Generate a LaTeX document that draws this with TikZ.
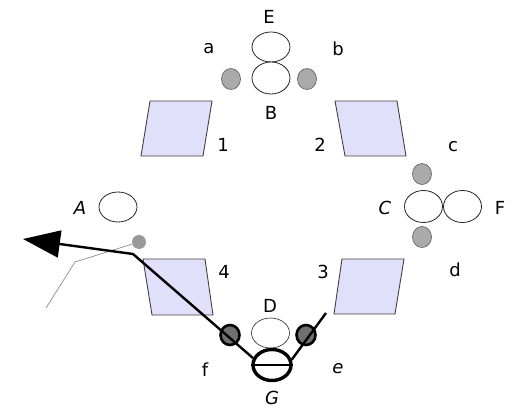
\documentclass[tikz,border=0pt]{standalone}
\usepackage{fontspec}
\setmainfont{DejaVu Sans}
\usetikzlibrary{shapes.geometric,arrows.meta}
\definecolor{lav}{RGB}{224,224,250}
\definecolor{pgray}{RGB}{170,170,170}
\definecolor{dgray}{RGB}{112,112,112}
\begin{document}
\begin{tikzpicture}[x=1pt,y=-1pt,
  lbl/.style={font=\fontsize{18}{18}\selectfont, inner sep=0},
  ilbl/.style={lbl, font=\fontsize{18}{18}\selectfont\itshape},
  wh/.style={ellipse, draw=black!85, fill=white, line width=0.8pt, inner sep=0, minimum width=38pt, minimum height=31pt},
  gr/.style={ellipse, draw=black!60, fill=pgray, line width=0.7pt, inner sep=0, minimum width=19pt, minimum height=21pt},
  dk/.style={ellipse, draw=black, fill=dgray, line width=2.6pt, inner sep=0, minimum width=19pt, minimum height=20pt},
  pg/.style={draw=black!75, fill=lav, line width=0.9pt},
  thick line/.style={line width=2.4pt, black}]
\useasboundingbox (0,0) rectangle (517,409);
% parallelograms
\draw[pg] (150,101) -- (212,101) -- (203,156) -- (141,156) -- cycle;
\draw[pg] (335,101) -- (397,101) -- (406,156) -- (345,156) -- cycle;
\draw[pg] (342,259) -- (404,259) -- (395,314) -- (334,314) -- cycle;
\draw[pg] (143,259) -- (205,259) -- (213,315) -- (152,315) -- cycle;
% top group
\node[wh, minimum width=38pt, minimum height=30pt] (E) at (271,47) {};
\node[wh, minimum width=38pt, minimum height=32pt] (B) at (271,78) {};
\node[gr] (ga) at (231,79) {};
\node[gr] (gb) at (307,79) {};
% left
\node[wh, minimum height=30pt] (A) at (118,207) {};
\node[circle, fill=black!40, inner sep=0, minimum size=14pt] (dot) at (139,242) {};
% right group
\node[wh, minimum height=32pt] (C) at (423.5,206.5) {};
\node[wh, minimum height=32pt] (F) at (462.5,206.5) {};
\node[gr] (gc) at (422,174) {};
\node[gr] (gd) at (422,237) {};
% bottom group
\node[wh, line width=0.6pt, minimum height=30pt] (D) at (270.5,333) {};
\node[dk] (f) at (230,335) {};
\node[dk] (e) at (306,335) {};
\node[ellipse, draw=black, fill=white, line width=3.4pt, inner sep=0, minimum width=38pt, minimum height=31pt] (G) at (272,365) {};
% connectors
\coordinate (tip) at (23,239);
\coordinate (corner) at (133,254);
\coordinate (eend) at (326,313);
\coordinate (gk) at (75,262);
\coordinate (gend) at (46,308);
\draw[black!45, line width=0.7pt] (dot) -- (gk) -- (gend);
\draw[thick line, -{Triangle[length=37pt,width=27pt]}] (G.160) -- (corner) -- (tip);
\draw[thick line] (G.15) -- (eend);
\draw[thick line] (G.west) -- (G.east);
% labels
\node[lbl] at (269,17) {E};
\node[lbl] at (209,49) {a};
\node[lbl] at (338,49) {b};
\node[lbl] at (271,113) {B};
\node[lbl] at (223,145) {1};
\node[lbl] at (320,145) {2};
\node[ilbl] at (80,208) {A};
\node[lbl] at (453,147) {c};
\node[ilbl] at (385,208) {C};
\node[lbl] at (500,208) {F};
\node[lbl] at (455,270) {d};
\node[lbl] at (224,272) {4};
\node[lbl] at (323,272) {3};
\node[lbl] at (270,306) {D};
\node[lbl] at (205,370) {f};
\node[ilbl] at (338,369) {e};
\node[ilbl] at (272,398) {G};
\end{tikzpicture}
\end{document}
